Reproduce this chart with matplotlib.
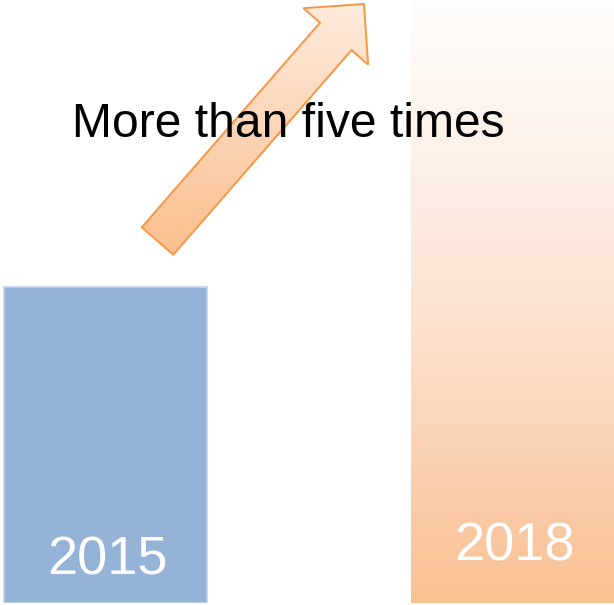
import matplotlib.pyplot as plt
import numpy as np
from matplotlib.patches import FancyArrow
from matplotlib.colors import LinearSegmentedColormap

years = ["2015", "2018"]
values = [1.0, 1.91]
note = "More than five times"

blue = "#95B3D7"
orange_lo = (249/255, 192/255, 146/255)
orange_hi = (1.0, 0.995, 0.99)

fig = plt.figure(figsize=(6.14, 6.05), dpi=100)
ax = fig.add_axes([0, 2/605, 1, 603/605])
x = np.arange(len(years))
bars = ax.bar(x, values, width=0.5, color=[blue, "none"],
              edgecolor=["#BFD2EA", "none"], linewidth=1.2)
ax.set_xlim(-0.2592, 1.2494)
ax.set_ylim(0, values[1])
ax.axis("off")

# gradient fill for the 2018 bar
b = bars[1]
cmap = LinearSegmentedColormap.from_list("org", [orange_lo, (252/255, 228/255, 212/255), orange_hi])
grad = np.linspace(0, 1, 256).reshape(-1, 1)
im = ax.imshow(grad, extent=(b.get_x(), b.get_x() + b.get_width(), 0, b.get_height()),
               origin="lower", cmap=cmap, aspect="auto", zorder=1)
im.set_clip_path(b)

label_y = [0.135, 0.18]
for xi, yr, ly in zip(x, years, label_y):
    ax.text(xi + 0.005, ly, yr, ha="center", va="center", color="white",
            fontsize=39, family="Liberation Sans", zorder=3)

# overlay in pixel units for the arrow and note
ov = fig.add_axes([0, 0, 1, 1])
ov.set_xlim(0, 614)
ov.set_ylim(605, 0)
ov.axis("off")
ov.patch.set_alpha(0)

x0, y0 = 157.5, 241
x1, y1 = 364, 4
arr = FancyArrow(x0, y0, x1 - x0, y1 - y0, width=41.8, head_width=85.8,
                 head_length=43, length_includes_head=True,
                 facecolor="none", edgecolor="#F79646", linewidth=1.4, zorder=3)
ov.add_patch(arr)
cmap2 = LinearSegmentedColormap.from_list("arr", [(250/255, 190/255, 140/255), (253/255, 236/255, 222/255)])
g = ov.imshow(np.linspace(0, 1, 256).reshape(-1, 1), extent=(130, 380, 260, 0),
              origin="lower", cmap=cmap2, aspect="auto", zorder=2)
g.set_clip_path(arr)

ov.text(288, 137, note, ha="center", va="baseline", fontsize=34.6,
        family="Liberation Sans", color="black", zorder=4)

fig.savefig("out.png", dpi=100)
